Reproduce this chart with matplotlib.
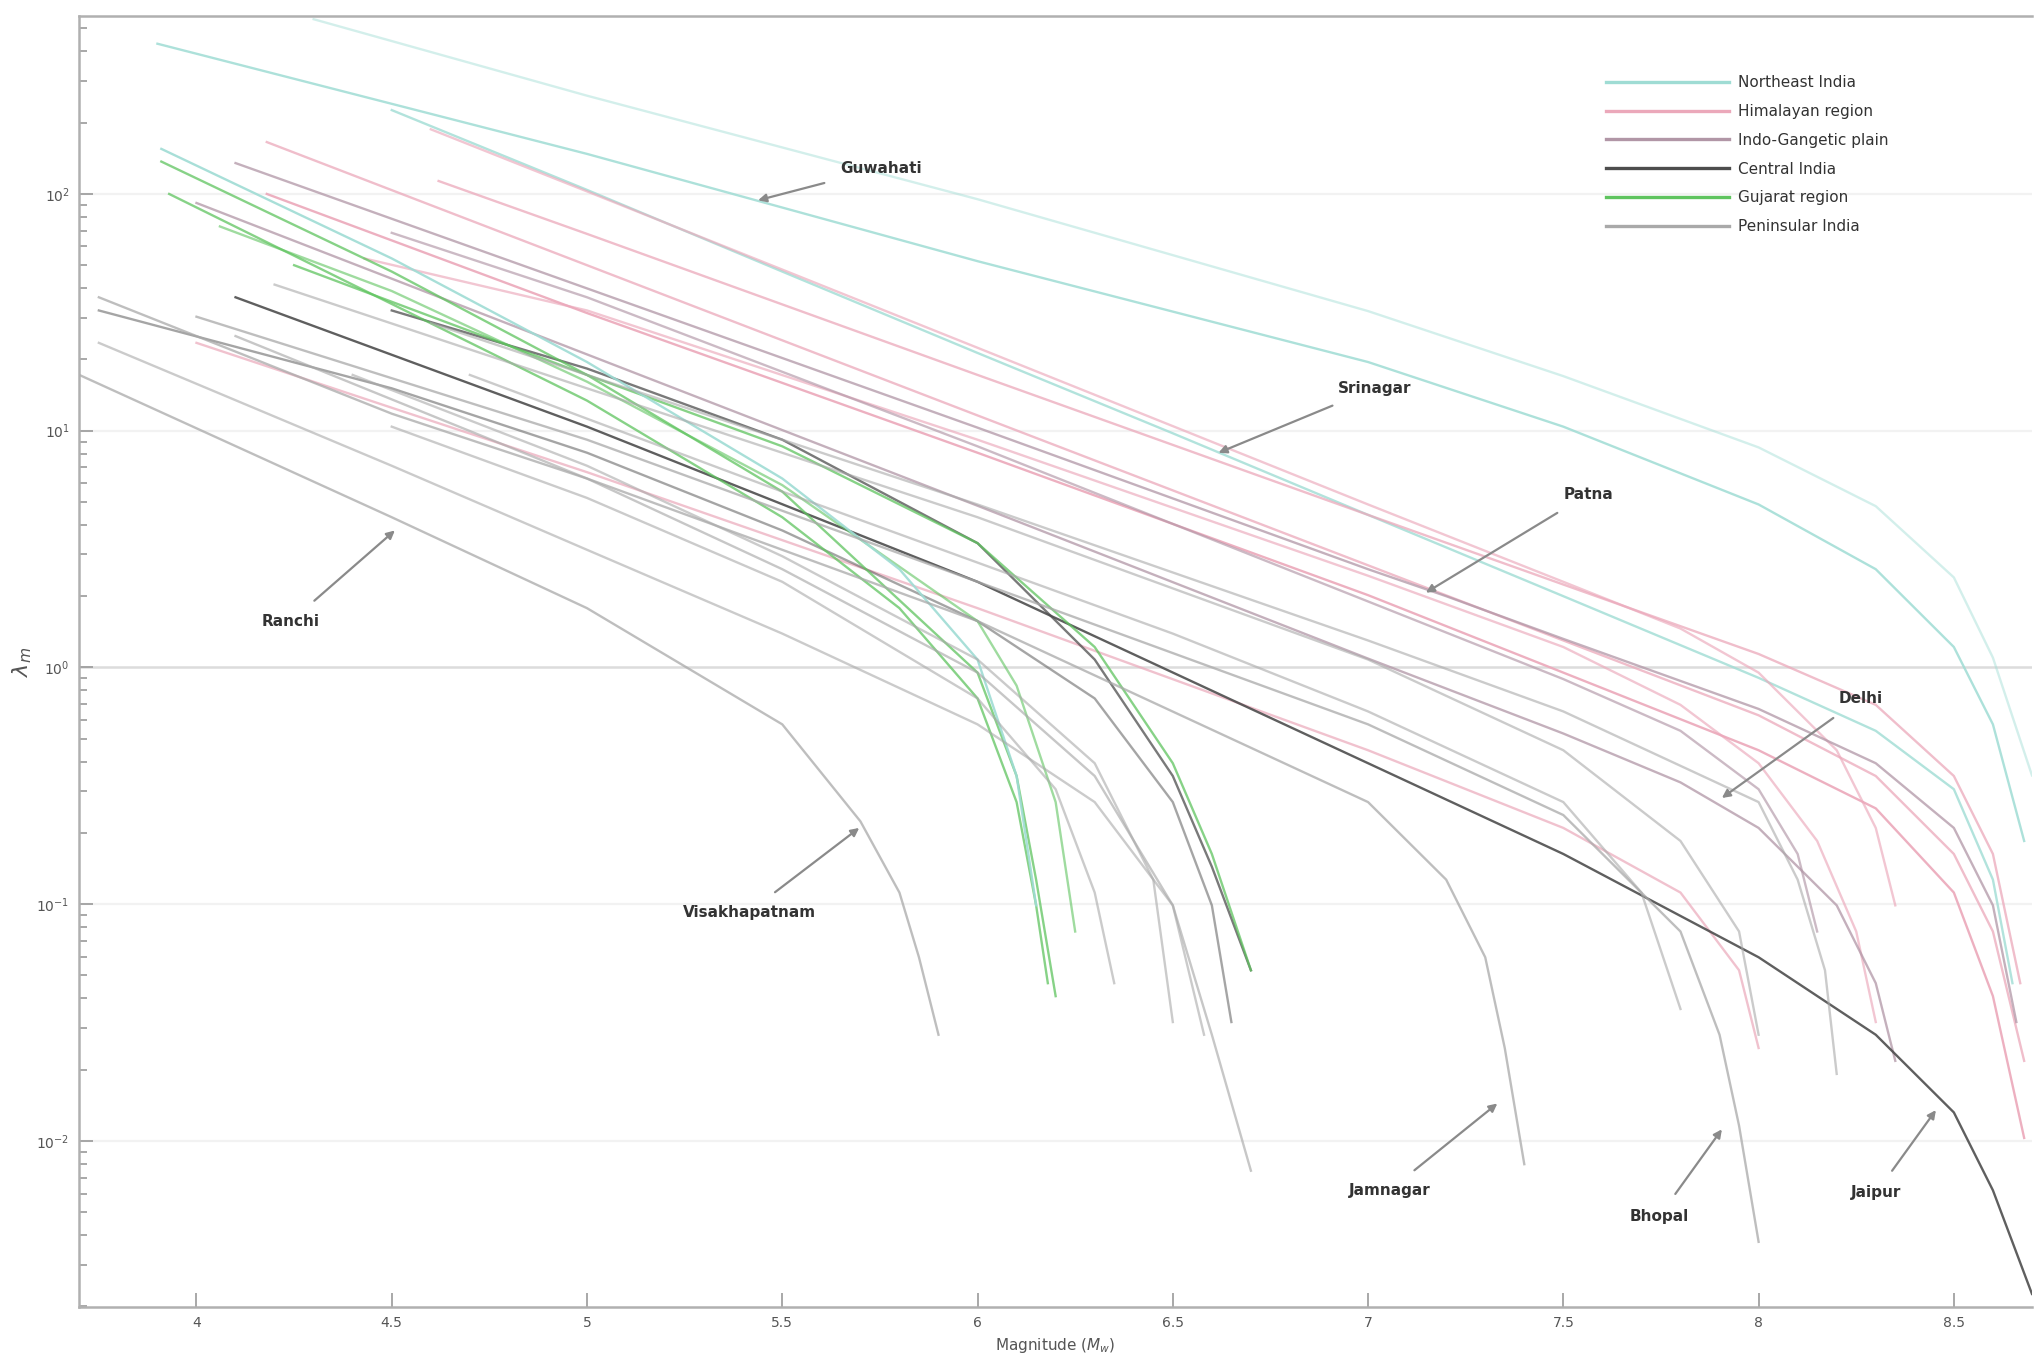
import matplotlib
matplotlib.use("Agg")
import matplotlib.pyplot as plt
from matplotlib.lines import Line2D

# magnitude (Mw) and mean annual rate of exceedance
# Northeast India
guwahati_m = [3.9, 5.0, 6.0, 7.0, 7.5, 8.0, 8.3, 8.5, 8.6, 8.68]
guwahati_r = [431, 147.6, 52.0, 19.5, 10.4, 4.88, 2.60, 1.22, 0.575, 0.185]
ne2_m = [4.3, 5.0, 6.0, 7.0, 7.5, 8.0, 8.3, 8.5, 8.6, 8.7]
ne2_r = [547, 260, 95.0, 32.0, 17.0, 8.5, 4.8, 2.4, 1.1, 0.35]
srinagar_m = [4.5, 5.0, 5.5, 6.0, 6.5, 7.0, 7.5, 8.0, 8.3, 8.5, 8.6, 8.65]
srinagar_r = [226, 104, 47.0, 21.3, 9.75, 4.41, 2.00, 0.904, 0.540, 0.306, 0.127, 0.0464]

# Himalayan region
him1_m = [4.18, 5.0, 6.0, 7.0, 7.5, 8.0, 8.3, 8.5, 8.6, 8.68]
him1_r = [165.6, 50.0, 11.6, 2.70, 1.30, 0.628, 0.348, 0.163, 0.0767, 0.0218]
him2_m = [4.6, 5.0, 6.0, 7.0, 7.5, 7.8, 8.0, 8.2, 8.3, 8.35]
him2_r = [187.5, 102.5, 22.4, 4.88, 2.30, 1.46, 0.951, 0.447, 0.210, 0.0989]
him3_m = [4.62, 5.0, 6.0, 7.0, 7.5, 8.0, 8.3, 8.5, 8.6, 8.67]
him3_r = [113.4, 67.8, 17.2, 4.41, 2.24, 1.14, 0.695, 0.348, 0.163, 0.0464]
him4_m = [4.18, 5.0, 6.0, 7.0, 7.5, 8.0, 8.3, 8.5, 8.6, 8.68]
him4_r = [100, 31.4, 8.07, 2.02, 0.951, 0.447, 0.254, 0.112, 0.0409, 0.0103]
him5_m = [4.43, 5.0, 6.0, 7.0, 7.5, 7.8, 8.0, 8.15, 8.25, 8.3]
him5_r = [53.4, 32.2, 9.16, 2.44, 1.22, 0.695, 0.394, 0.185, 0.0767, 0.0318]
him6_m = [4.0, 4.5, 5.0, 6.0, 7.0, 7.5, 7.8, 7.95, 8.0]
him6_r = [23.5, 12.5, 6.68, 1.78, 0.447, 0.210, 0.112, 0.0526, 0.0247]

# Indo-Gangetic plain
patna_m = [4.1, 5.0, 6.0, 7.0, 7.2, 7.5, 8.0, 8.3, 8.5, 8.6, 8.66]
patna_r = [135, 39.9, 10.3, 2.60, 2.00, 1.32, 0.668, 0.394, 0.210, 0.0989, 0.0318]
delhi_m = [4.0, 5.0, 6.0, 7.0, 7.5, 7.8, 8.0, 8.2, 8.3, 8.35]
delhi_r = [91.6, 21.0, 4.82, 1.09, 0.526, 0.327, 0.210, 0.0989, 0.0464, 0.0218]
ig3_m = [4.5, 5.0, 6.0, 7.0, 7.5, 7.8, 8.0, 8.1, 8.15]
ig3_r = [68.5, 36.6, 8.59, 1.90, 0.893, 0.540, 0.306, 0.163, 0.0767]

# Central India
jaipur_m = [4.1, 5.0, 6.0, 7.0, 7.5, 8.0, 8.3, 8.5, 8.6, 8.7]
jaipur_r = [36.6, 10.4, 2.30, 0.394, 0.163, 0.0597, 0.0281, 0.0132, 0.00619, 0.00226]
cen2_m = [4.5, 5.0, 5.5, 6.0, 6.3, 6.5, 6.6, 6.7]
cen2_r = [32.2, 18.3, 9.16, 3.35, 1.08, 0.348, 0.144, 0.0526]
cen3_m = [3.75, 4.5, 5.0, 5.5, 6.0, 6.3, 6.5, 6.6, 6.65]
cen3_r = [32.2, 15.1, 8.07, 3.79, 1.57, 0.740, 0.270, 0.0989, 0.0318]

# Gujarat region
guj1_m = [3.91, 4.5, 5.0, 5.5, 6.0, 6.1, 6.15, 6.2]
guj1_r = [137, 47.0, 17.2, 5.53, 0.951, 0.348, 0.127, 0.0409]
guj2_m = [3.93, 4.5, 5.0, 5.5, 5.8, 6.0, 6.1, 6.15, 6.18]
guj2_r = [100, 34.3, 13.4, 4.31, 1.78, 0.740, 0.270, 0.0989, 0.0464]
guj3_m = [4.06, 4.5, 5.0, 5.5, 6.0, 6.1, 6.2, 6.25]
guj3_r = [72.9, 38.9, 16.1, 5.89, 1.57, 0.838, 0.270, 0.0767]
guj4_m = [4.25, 5.0, 5.5, 6.0, 6.3, 6.5, 6.6, 6.7]
guj4_r = [50.0, 17.2, 8.59, 3.35, 1.22, 0.394, 0.163, 0.0526]
guj5_m = [3.91, 4.5, 5.0, 5.5, 5.8, 6.0, 6.1, 6.15]
guj5_r = [155, 53.4, 19.5, 6.28, 2.60, 1.08, 0.348, 0.0989]

# Peninsular India
visakhapatnam_m = [3.7, 4.5, 5.0, 5.5, 5.7, 5.8, 5.85, 5.9]
visakhapatnam_r = [17.2, 4.31, 1.78, 0.575, 0.224, 0.112, 0.0597, 0.0281]
ranchi_m = [3.75, 4.5, 5.0, 5.5, 6.0, 6.3, 6.5, 6.58]
ranchi_r = [23.5, 7.11, 3.14, 1.39, 0.575, 0.270, 0.0989, 0.0281]
jamnagar_m = [3.75, 4.5, 5.0, 6.0, 7.0, 7.2, 7.3, 7.35, 7.4]
jamnagar_r = [36.6, 11.8, 6.28, 1.57, 0.270, 0.127, 0.0597, 0.0247, 0.00798]
bhopal_m = [4.0, 5.0, 6.0, 7.0, 7.5, 7.8, 7.9, 7.95, 8.0]
bhopal_r = [30.3, 9.16, 2.30, 0.575, 0.238, 0.0767, 0.0281, 0.0116, 0.00375]
pen5_m = [4.1, 5.0, 5.5, 6.0, 6.3, 6.5, 6.6, 6.7]
pen5_r = [25.1, 6.28, 2.60, 0.951, 0.348, 0.0989, 0.0281, 0.00749]
pen6_m = [4.2, 5.0, 6.0, 7.0, 7.5, 7.8, 7.95, 8.0]
pen6_r = [41.4, 15.1, 4.31, 1.08, 0.447, 0.185, 0.0767, 0.0281]
pen7_m = [4.6, 5.0, 6.0, 7.0, 7.5, 8.0, 8.1, 8.17, 8.2]
pen7_r = [28.5, 17.2, 4.88, 1.30, 0.652, 0.270, 0.127, 0.0526, 0.0192]
pen8_m = [4.4, 5.0, 5.5, 6.0, 6.3, 6.45, 6.5]
pen8_r = [17.2, 7.11, 2.95, 1.08, 0.394, 0.127, 0.0318]
pen9_m = [4.5, 5.0, 5.5, 6.0, 6.2, 6.3, 6.35]
pen9_r = [10.4, 5.20, 2.30, 0.740, 0.306, 0.112, 0.0464]
pen10_m = [4.7, 5.5, 6.5, 7.0, 7.5, 7.7, 7.8]
pen10_r = [17.2, 5.53, 1.39, 0.652, 0.270, 0.112, 0.0361]

regions = ["Northeast India", "Himalayan region", "Indo-Gangetic plain",
           "Central India", "Gujarat region", "Peninsular India"]
region_colors = ["#9fdcd4", "#eba8ba", "#b196a6", "#4d4d4d", "#5fc45f", "#a9a9a9"]

# city annotations: label, text position, arrow tip
ann_labels = ["Guwahati", "Srinagar", "Patna", "Delhi", "Ranchi",
              "Visakhapatnam", "Jamnagar", "Bhopal", "Jaipur"]
ann_text_m = [5.754, 7.016, 7.564, 8.261, 4.242, 5.415, 7.055, 7.746, 8.301]
ann_text_r = [128.6, 15.1, 5.40, 0.74, 1.57, 0.0927, 0.00619, 0.00482, 0.00604]
ann_tip_m = [5.438, 6.617, 7.148, 7.906, 4.508, 5.697, 7.331, 7.906, 8.454]
ann_tip_r = [94.0, 8.07, 2.07, 0.281, 3.79, 0.210, 0.0144, 0.0112, 0.0135]

curves = [
    (guwahati_m, guwahati_r, 0, 0.85), (ne2_m, ne2_r, 0, 0.45),
    (srinagar_m, srinagar_r, 0, 0.8),
    (him1_m, him1_r, 1, 0.75), (him2_m, him2_r, 1, 0.65), (him3_m, him3_r, 1, 0.75),
    (him4_m, him4_r, 1, 0.9), (him5_m, him5_r, 1, 0.65), (him6_m, him6_r, 1, 0.7),
    (patna_m, patna_r, 2, 0.75), (delhi_m, delhi_r, 2, 0.75), (ig3_m, ig3_r, 2, 0.65),
    (jaipur_m, jaipur_r, 3, 0.9), (cen2_m, cen2_r, 3, 0.75), (cen3_m, cen3_r, 3, 0.5),
    (guj1_m, guj1_r, 4, 0.75), (guj2_m, guj2_r, 4, 0.75), (guj3_m, guj3_r, 4, 0.6),
    (guj4_m, guj4_r, 4, 0.75), (guj5_m, guj5_r, 0, 0.9),
    (visakhapatnam_m, visakhapatnam_r, 5, 0.75), (ranchi_m, ranchi_r, 5, 0.6),
    (jamnagar_m, jamnagar_r, 5, 0.75), (bhopal_m, bhopal_r, 5, 0.75),
    (pen5_m, pen5_r, 5, 0.65), (pen6_m, pen6_r, 5, 0.6), (pen7_m, pen7_r, 5, 0.6),
    (pen8_m, pen8_r, 5, 0.6), (pen9_m, pen9_r, 5, 0.6), (pen10_m, pen10_r, 5, 0.6),
]

plt.rcParams["font.family"] = "DejaVu Sans"
fig = plt.figure(figsize=(10.17, 6.82), dpi=200)
ax = fig.add_axes([0.039, 0.042, 0.96, 0.946])

for mags, rates, g, a in curves:
    ax.plot(mags, rates, color=region_colors[g], lw=0.85, alpha=a, zorder=2)

ax.set_yscale("log")
ax.set_xlim(3.7, 8.7)
ax.set_ylim(10 ** -2.7, 10 ** 2.75)
ax.set_xticks([4, 4.5, 5, 5.5, 6, 6.5, 7, 7.5, 8, 8.5])
ax.set_xticklabels(["4", "4.5", "5", "5.5", "6", "6.5", "7", "7.5", "8", "8.5"])
ax.set_yticks([1e-2, 1e-1, 1, 10, 100])
ax.tick_params(axis="both", which="both", direction="in", labelsize=5,
               colors="#999999", labelcolor="#555555", width=0.6)
ax.tick_params(axis="both", which="major", length=5)
ax.tick_params(axis="y", which="minor", length=3)
for s in ax.spines.values():
    s.set_color("#b0b0b0")
    s.set_linewidth(0.9)
ax.spines["right"].set_visible(False)

for v in [1e-2, 1e-1, 10, 100]:
    ax.axhline(v, color="#f2f2f2", lw=0.8, zorder=1)
ax.axhline(1, color="#dcdcdc", lw=0.9, zorder=1)

ax.set_xlabel(r"Magnitude ($M_w$)", fontsize=5.5, color="#555555", labelpad=2)
ax.set_ylabel(r"$\lambda_m$", fontsize=8, color="#555555", labelpad=1)

for lab, tm, tr, pm, pr in zip(ann_labels, ann_text_m, ann_text_r, ann_tip_m, ann_tip_r):
    ax.annotate(lab, xy=(pm, pr), xytext=(tm, tr), fontsize=5.5, color="#333333",
                ha="center", va="center", fontweight="bold",
                arrowprops=dict(arrowstyle="-|>", color="#8a8a8a", lw=0.8,
                                mutation_scale=6, shrinkA=4, shrinkB=0), zorder=5)

handles = [Line2D([0], [0], color=c, lw=1.2) for c in region_colors]
leg = ax.legend(handles, regions, loc="upper left", bbox_to_anchor=(0.775, 0.965),
                frameon=False, fontsize=5.5, handlelength=8, handletextpad=0.6,
                labelspacing=0.9)
for t in leg.get_texts():
    t.set_color("#333333")

fig.savefig("out.png", dpi=200)
